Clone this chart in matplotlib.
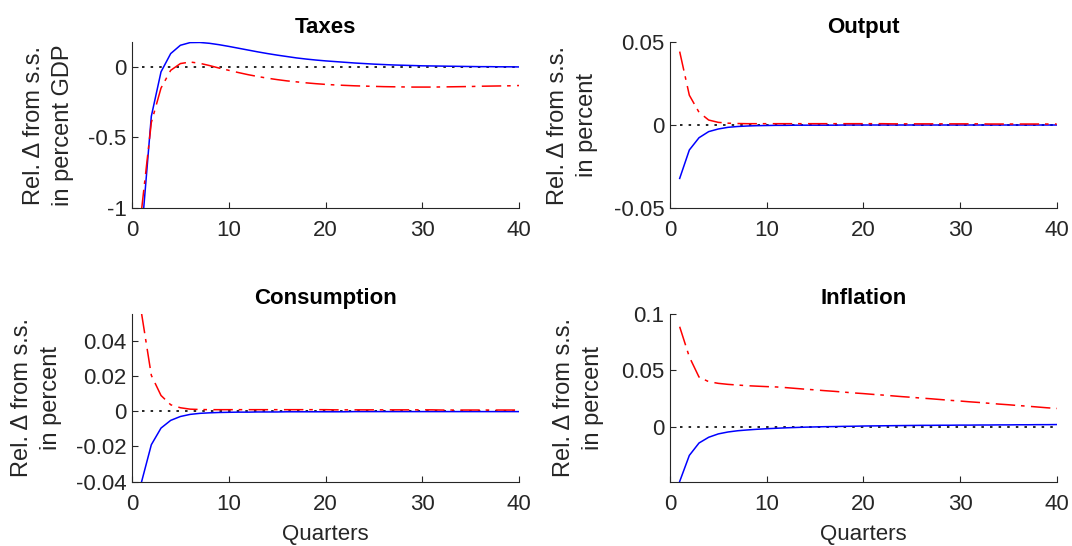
"""
Impulse responses of taxes, output, consumption and inflation over 40 quarters.
"""

import numpy as np
import matplotlib
matplotlib.use("Agg")
import matplotlib.pyplot as plt

quarters = np.arange(1, 41)

# Solid blue responses.
taxes_blue = [-1.18, -0.35, -0.035, 0.095, 0.154, 0.173, 0.174, 0.168, 0.158, 0.146,
              0.133, 0.120, 0.107, 0.095, 0.084, 0.074, 0.064, 0.056, 0.049, 0.043,
              0.038, 0.033, 0.028, 0.024, 0.020, 0.017, 0.014, 0.012, 0.010, 0.008,
              0.007, 0.006, 0.005, 0.004, 0.003, 0.002, 0.002, 0.001, 0.001, 0.0]
output_blue = [-0.0323, -0.0151, -0.0077, -0.0040, -0.0024, -0.0014, -0.0009, -0.0006, -0.0004, -0.0003,
               -0.0002, -0.0002, -0.0001, -0.0001, -0.0001, -0.0001, -0.0001, 0.0, 0.0, 0.0,
               0.0, 0.0, 0.0, 0.0, 0.0, 0.0, 0.0, 0.0, 0.0, 0.0,
               0.0, 0.0, 0.0, 0.0, 0.0, 0.0, 0.0, 0.0, 0.0, 0.0]
consumption_blue = [-0.040, -0.019, -0.0095, -0.0051, -0.0029, -0.0017, -0.0011, -0.0008, -0.0006, -0.0005,
                    -0.0004, -0.0004, -0.0003, -0.0003, -0.0003, -0.0002, -0.0002, -0.0002, -0.0002, -0.0002,
                    -0.0002, -0.0002, -0.0001, -0.0001, -0.0001, -0.0001, -0.0001, -0.0001, -0.0001, -0.0001,
                    -0.0001, -0.0001, -0.0001, -0.0001, -0.0001, -0.0001, -0.0001, -0.0001, -0.0001, -0.0001]
inflation_blue = [-0.0488, -0.0256, -0.0146, -0.0095, -0.0065, -0.0048, -0.0037, -0.0030, -0.0024, -0.0019,
                  -0.0015, -0.0011, -0.0008, -0.0005, -0.0003, -0.0001, 0.0000, 0.0002, 0.0003, 0.0005,
                  0.0006, 0.0007, 0.0008, 0.0009, 0.0010, 0.0011, 0.0011, 0.0012, 0.0012, 0.0013,
                  0.0013, 0.0014, 0.0014, 0.0015, 0.0015, 0.0016, 0.0016, 0.0017, 0.0017, 0.0018]

# Dash-dot red responses.
taxes_red = [-1.01, -0.395, -0.15, -0.024, 0.024, 0.035, 0.026, 0.010, -0.008, -0.024,
             -0.040, -0.055, -0.068, -0.080, -0.090, -0.099, -0.106, -0.113, -0.119, -0.124,
             -0.128, -0.131, -0.134, -0.136, -0.138, -0.140, -0.141, -0.142, -0.143, -0.143,
             -0.143, -0.142, -0.141, -0.140, -0.139, -0.137, -0.136, -0.135, -0.134, -0.132]
output_red = [0.0444, 0.0180, 0.0077, 0.0030, 0.0016, 0.0011, 0.0009, 0.0008, 0.0008, 0.0008,
              0.0008, 0.0008, 0.0008, 0.0008, 0.0008, 0.0008, 0.0008, 0.0008, 0.0008, 0.0008,
              0.0008, 0.0008, 0.0007, 0.0007, 0.0007, 0.0007, 0.0007, 0.0007, 0.0007, 0.0007,
              0.0007, 0.0007, 0.0006, 0.0006, 0.0006, 0.0006, 0.0006, 0.0006, 0.0006, 0.0006]
consumption_red = [0.0556, 0.0206, 0.0091, 0.0038, 0.0021, 0.0013, 0.0011, 0.0010, 0.0010, 0.0010,
                   0.0010, 0.0010, 0.0010, 0.0010, 0.0010, 0.0010, 0.0010, 0.0010, 0.0010, 0.0010,
                   0.0009, 0.0009, 0.0009, 0.0009, 0.0009, 0.0009, 0.0009, 0.0009, 0.0009, 0.0009,
                   0.0009, 0.0008, 0.0008, 0.0008, 0.0008, 0.0008, 0.0008, 0.0008, 0.0008, 0.0008]
inflation_red = [0.0887, 0.0619, 0.0440, 0.0399, 0.0384, 0.0375, 0.0369, 0.0363, 0.0359, 0.0355,
                 0.0352, 0.0346, 0.0339, 0.0332, 0.0326, 0.0319, 0.0313, 0.0306, 0.0299, 0.0293,
                 0.0286, 0.0280, 0.0273, 0.0266, 0.0260, 0.0253, 0.0247, 0.0240, 0.0233, 0.0227,
                 0.0220, 0.0214, 0.0207, 0.0200, 0.0194, 0.0187, 0.0181, 0.0174, 0.0167, 0.0161]

titles = ["Taxes", "Output", "Consumption", "Inflation"]
ylabels = ["Rel. \u0394 from s.s.\nin percent GDP", "Rel. \u0394 from s.s.\nin percent",
           "Rel. \u0394 from s.s.\nin percent", "Rel. \u0394 from s.s.\nin percent"]
yticks = [[-1, -0.5, 0], [-0.05, 0, 0.05], [-0.04, -0.02, 0, 0.02, 0.04], [0, 0.05, 0.1]]
yticklabels = [["-1", "-0.5", "0"], ["-0.05", "0", "0.05"],
               ["-0.04", "-0.02", "0", "0.02", "0.04"], ["0", "0.05", "0.1"]]
ylims = [(-1, 0.175), (-0.05, 0.05), (-0.04, 0.0556), (-0.0488, 0.1)]

plt.rcParams["font.family"] = ["Liberation Sans", "DejaVu Sans"]
plt.rcParams["axes.unicode_minus"] = False
plt.rcParams["lines.scale_dashes"] = False

fig = plt.figure(figsize=(10.72, 5.46), dpi=100)
# axes boxes [left, bottom, width, height] in figure fractions
positions = [[0.1231, 0.6196, 0.3613, 0.3029],
             [0.6250, 0.6196, 0.3607, 0.3029],
             [0.1231, 0.1181, 0.3613, 0.3068],
             [0.6250, 0.1181, 0.3607, 0.3068]]
# right edge of the two-line y labels, in axes fractions
label_x = [-0.150, -0.186, -0.181, -0.171]
blues = [taxes_blue, output_blue, consumption_blue, inflation_blue]
reds = [taxes_red, output_red, consumption_red, inflation_red]
grey = "#262626"

for k in range(4):
    ax = fig.add_axes(positions[k])
    ax.plot(quarters, np.zeros(len(quarters)), color="black", lw=1.2, dashes=(1.8, 4.4))
    ax.plot(quarters, blues[k], color="#0000FF", lw=1.1)
    ax.plot(quarters, reds[k], color="#FF0000", lw=1.1, dashes=(14.0, 4.2, 2.6, 4.6))
    ax.set_xlim(0, 40)
    ax.set_ylim(*ylims[k])
    ax.set_xticks([0, 10, 20, 30, 40])
    ax.set_yticks(yticks[k])
    ax.set_yticklabels(yticklabels[k])
    ax.spines["top"].set_visible(False)
    ax.spines["right"].set_visible(False)
    for side in ["left", "bottom"]:
        ax.spines[side].set_color(grey)
        ax.spines[side].set_linewidth(0.8)
    ax.tick_params(direction="in", length=4, width=0.8, colors=grey, labelsize=16)
    ax.tick_params(axis="x", pad=9)
    ax.tick_params(axis="y", pad=4)
    ax.set_title(titles[k], fontsize=16, fontweight="bold", pad=7)
    ax.set_ylabel(ylabels[k], fontsize=17, color=grey, linespacing=1.4)
    ax.yaxis.set_label_coords(label_x[k], 0.5)
    if k >= 2:
        ax.set_xlabel("Quarters", fontsize=16, color=grey, labelpad=6.5)

fig.savefig("out.png", dpi=100)
